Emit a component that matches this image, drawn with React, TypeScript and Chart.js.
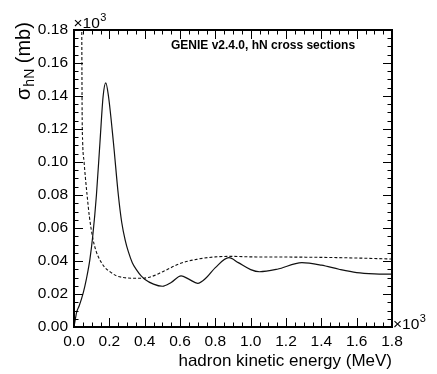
import React, { useEffect, useRef } from "react";
import { Chart, registerables } from "chart.js";

Chart.register(...registerables);

// Hadron kinetic energy (x10^3 MeV)
const xSolid = [0, 0.008, 0.015, 0.03, 0.053, 0.07, 0.09, 0.106, 0.127, 0.147, 0.165, 0.18, 0.195, 0.223, 0.251, 0.27, 0.29, 0.308, 0.33, 0.355, 0.38, 0.4, 0.45, 0.5, 0.55, 0.606, 0.65, 0.7, 0.75, 0.8, 0.877, 0.93, 1.0, 1.05, 1.15, 1.29, 1.4, 1.5, 1.6, 1.7, 1.8];
// sigma_hN (x10^3 mb), solid curve
const ySolid = [0, 0.005, 0.009, 0.013, 0.021, 0.029, 0.041, 0.055, 0.08, 0.112, 0.14, 0.148, 0.14, 0.112, 0.08, 0.0635, 0.0525, 0.0455, 0.039, 0.0345, 0.031, 0.029, 0.026, 0.0247, 0.027, 0.031, 0.029, 0.0265, 0.03, 0.036, 0.042, 0.039, 0.0348, 0.0335, 0.035, 0.039, 0.0375, 0.035, 0.033, 0.0322, 0.032];

const xDashed = [0.038, 0.042, 0.044, 0.046, 0.049, 0.057, 0.065, 0.074, 0.087, 0.106, 0.125, 0.147, 0.175, 0.204, 0.24, 0.28, 0.355, 0.42, 0.506, 0.6, 0.694, 0.8, 0.9, 1.0, 1.2, 1.4, 1.6, 1.8];
const yDashed = [0.4, 0.24, 0.18, 0.13, 0.112, 0.1, 0.09, 0.08, 0.067, 0.054, 0.046, 0.0406, 0.036, 0.0335, 0.031, 0.03, 0.0295, 0.03, 0.0337, 0.0385, 0.041, 0.0425, 0.0428, 0.0425, 0.0424, 0.0422, 0.0418, 0.0412];

const xTickStep = 0.2;
const yTickStep = 0.02;
const xMinorStep = 0.05;
const yMinorStep = 0.005;

const titleText = "GENIE v2.4.0, hN cross sections";
const xTitle = "hadron kinetic energy (MeV)";
const FONT = "'Liberation Sans', Arial, Helvetica, sans-serif";

const framePlugin = {
  id: "rootFrame",
  afterDatasetsDraw(chart: any) {
    const { ctx, chartArea } = chart;
    const { left, right, top, bottom } = chartArea;
    const xs = chart.scales.x;
    const ys = chart.scales.y;
    ctx.save();
    ctx.strokeStyle = "#000";
    ctx.lineWidth = 2;
    ctx.strokeRect(left, top, right - left, bottom - top);
    ctx.lineWidth = 1;
    ctx.beginPath();
    for (let v = xs.min; v <= xs.max + 1e-9; v += xMinorStep) {
      const px = Math.round(xs.getPixelForValue(v)) + 0.5;
      const major = Math.abs(v / xTickStep - Math.round(v / xTickStep)) < 1e-6;
      const len = major ? 9 : 4.5;
      ctx.moveTo(px, bottom);
      ctx.lineTo(px, bottom - len);
      ctx.moveTo(px, top);
      ctx.lineTo(px, top + len);
    }
    for (let v = ys.min; v <= ys.max + 1e-9; v += yMinorStep) {
      const py = Math.round(ys.getPixelForValue(v)) + 0.5;
      const major = Math.abs(v / yTickStep - Math.round(v / yTickStep)) < 1e-6;
      const len = major ? 9 : 4.5;
      ctx.moveTo(left, py);
      ctx.lineTo(left + len, py);
      ctx.moveTo(right, py);
      ctx.lineTo(right - len, py);
    }
    ctx.stroke();

    ctx.fillStyle = "#000";
    ctx.textBaseline = "alphabetic";
    ctx.textAlign = "left";
    const drawExp = (x: number, y: number) => {
      ctx.font = `15.5px ${FONT}`;
      ctx.fillText("\u00d710", x, y);
      const w = ctx.measureText("\u00d710").width;
      ctx.font = `11px ${FONT}`;
      ctx.fillText("3", x + w + 0.5, y - 7);
    };
    drawExp(left - 0.5, top - 2);
    drawExp(right + 1, bottom + 1.5);

    ctx.font = `bold 12px ${FONT}`;
    ctx.fillText(titleText, 171, 48.5);

    ctx.save();
    ctx.translate(29.5, 100);
    ctx.rotate(-Math.PI / 2);
    ctx.font = `20px ${FONT}`;
    ctx.fillText("\u03c3", 0, 0);
    let cx = ctx.measureText("\u03c3").width + 1;
    ctx.font = `14px ${FONT}`;
    ctx.fillText("hN", cx, 4.5);
    cx += ctx.measureText("hN").width;
    ctx.font = `20px ${FONT}`;
    ctx.fillText(" (mb)", cx, 0);
    ctx.restore();

    ctx.font = `17px ${FONT}`;
    ctx.textAlign = "right";
    ctx.fillText(xTitle, right, 366);
    ctx.restore();
  },
};

export default function App() {
  const ref = useRef<HTMLCanvasElement | null>(null);
  useEffect(() => {
    if (!ref.current) return;
    const chart = new Chart(ref.current, {
      type: "line",
      data: {
        datasets: [
          {
            data: xSolid.map((x, i) => ({ x, y: ySolid[i] })),
            borderColor: "#111",
            borderWidth: 1.2,
            pointRadius: 0,
            cubicInterpolationMode: "monotone",
            fill: false,
          },
          {
            data: xDashed.map((x, i) => ({ x, y: yDashed[i] })),
            borderColor: "#111",
            borderWidth: 1.1,
            borderDash: [3, 2],
            pointRadius: 0,
            cubicInterpolationMode: "monotone",
            fill: false,
          },
        ],
      },
      options: {
        responsive: false,
        animation: false,
        devicePixelRatio: 1,
        layout: { padding: { top: 30, right: 45, left: 0, bottom: 0 } },
        plugins: { legend: { display: false }, tooltip: { enabled: false } },
        scales: {
          x: {
            type: "linear",
            min: 0,
            max: 1.8,
            grid: { display: false, drawTicks: false },
            border: { display: false },
            ticks: {
              stepSize: xTickStep,
              autoSkip: false,
              maxRotation: 0,
              padding: 5,
              color: "#000",
              font: { family: FONT, size: 15.5 },
              callback: (v: any) => Number(v).toFixed(1),
            },
            afterFit: (s: any) => {
              s.height = 47;
            },
          },
          y: {
            type: "linear",
            min: 0,
            max: 0.18,
            grid: { display: false, drawTicks: false },
            border: { display: false },
            ticks: {
              stepSize: yTickStep,
              autoSkip: false,
              padding: 6,
              color: "#000",
              font: { family: FONT, size: 15.5 },
              callback: (v: any) => Number(v).toFixed(2),
            },
            afterFit: (s: any) => {
              s.width = 74;
            },
          },
        },
      } as any,
      plugins: [framePlugin],
    });
    return () => chart.destroy();
  }, []);
  return (
    <div style={{ position: "fixed", left: 0, top: 0, width: 437, height: 374, background: "#fff" }}>
      <canvas ref={ref} width={437} height={374} style={{ width: 437, height: 374 }} />
    </div>
  );
}
